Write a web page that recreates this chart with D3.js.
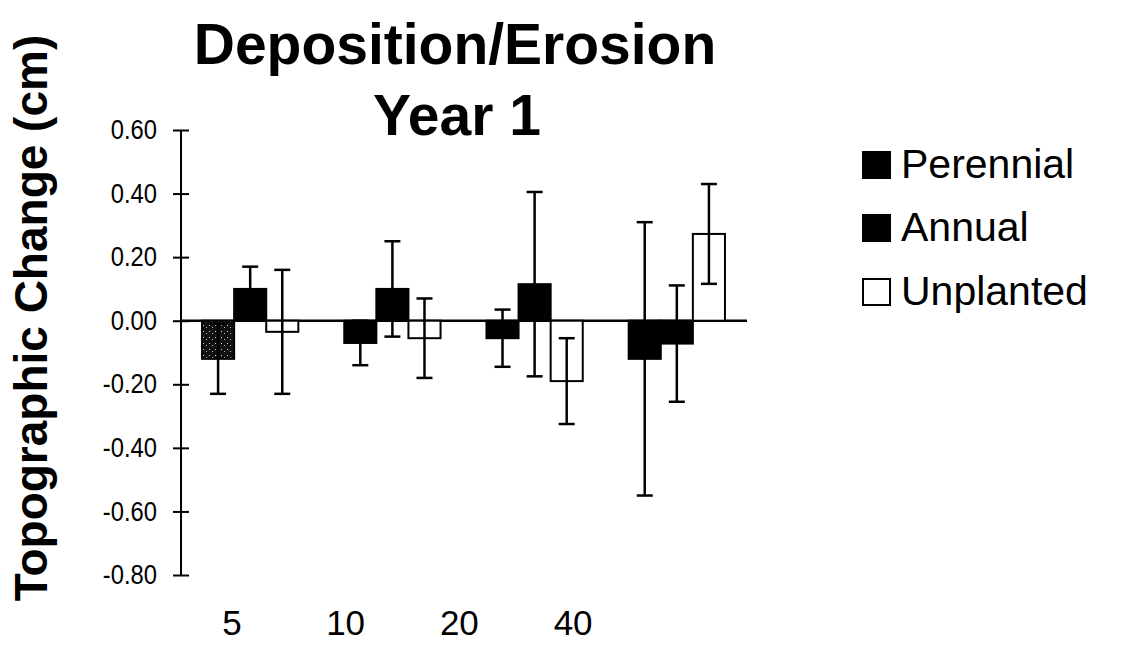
<!DOCTYPE html>
<html>
<head>
<meta charset="utf-8">
<script src="https://cdn.jsdelivr.net/npm/d3@7"></script>
<style>
  body { margin: 0; background: #fff; }
  text { font-family: "Liberation Sans", Arial, sans-serif; fill: #000; }
</style>
</head>
<body>
<script>
// Data
const categories = ["5", "10", "20", "40"];
const seriesNames = ["Perennial", "Annual", "Unplanted"];
const perennial = [-0.12, -0.07, -0.055, -0.12];
const perennialErr = [0.11, 0.07, 0.09, 0.43];
const annual = [0.10, 0.10, 0.115, -0.072];
const annualErr = [0.07, 0.15, 0.29, 0.183];
const unplanted = [-0.035, -0.055, -0.19, 0.273];
const unplantedErr = [0.195, 0.125, 0.135, 0.157];
const yTicks = [0.6, 0.4, 0.2, 0, -0.2, -0.4, -0.6, -0.8];

const W = 1127, H = 659;

const svg = d3.select("body").append("svg")
  .attr("width", W)
  .attr("height", H);

// speckled fill seen on the first perennial bar
const defs = svg.append("defs");
const pat = defs.append("pattern")
  .attr("id", "speckle")
  .attr("patternUnits", "userSpaceOnUse")
  .attr("width", 6).attr("height", 6);
pat.append("rect").attr("width", 6).attr("height", 6).attr("fill", "#111");
pat.append("rect").attr("x", 1).attr("y", 1).attr("width", 1).attr("height", 1).attr("fill", "#ddd");
pat.append("rect").attr("x", 4).attr("y", 3).attr("width", 1).attr("height", 1).attr("fill", "#bbb");

// Scales
const y = d3.scaleLinear().domain([-0.8, 0.6]).range([575, 130]);

const x0 = d3.scaleBand()
  .domain(categories)
  .range([180, 747])
  .paddingInner(0.323)
  .paddingOuter(0.155);

const x1 = d3.scaleBand()
  .domain(seriesNames)
  .range([0, x0.bandwidth()]);

// category labels sit a bit left of their groups in the original
const xLabel = d3.scaleBand().domain(categories).range([175, 630]);

const data = categories.map((c, i) => ({
  cat: c,
  values: [
    { key: "Perennial", v: perennial[i], e: perennialErr[i] },
    { key: "Annual", v: annual[i], e: annualErr[i] },
    { key: "Unplanted", v: unplanted[i], e: unplantedErr[i] }
  ]
}));

const fills = { Perennial: "#000", Annual: "#000", Unplanted: "#fff" };

// Zero line
svg.append("line")
  .attr("x1", 180).attr("x2", 747)
  .attr("y1", y(0)).attr("y2", y(0))
  .attr("stroke", "#000").attr("stroke-width", 2.5);

// Bars
const groups = svg.selectAll(".grp")
  .data(data)
  .join("g")
  .attr("class", "grp")
  .attr("transform", d => `translate(${x0(d.cat)},0)`);

groups.selectAll("rect")
  .data(d => d.values.map(v => Object.assign({ cat: d.cat }, v)))
  .join("rect")
  .attr("x", d => x1(d.key))
  .attr("width", x1.bandwidth())
  .attr("y", d => y(Math.max(0, d.v)))
  .attr("height", d => Math.abs(y(d.v) - y(0)))
  .attr("fill", d => (d.key === "Perennial" && d.cat === "5") ? "url(#speckle)" : fills[d.key])
  .attr("stroke", "#000")
  .attr("stroke-width", 2);

// Error bars
const err = groups.selectAll(".err")
  .data(d => d.values)
  .join("g")
  .attr("class", "err")
  .attr("transform", d => `translate(${x1(d.key) + x1.bandwidth() / 2},0)`);

err.append("line")
  .attr("y1", d => y(d.v + d.e))
  .attr("y2", d => y(d.v - d.e))
  .attr("stroke", "#000").attr("stroke-width", 2.5);

err.selectAll(".cap")
  .data(d => [d.v + d.e, d.v - d.e])
  .join("line")
  .attr("class", "cap")
  .attr("x1", -8).attr("x2", 8)
  .attr("y1", d => y(d)).attr("y2", d => y(d))
  .attr("stroke", "#000").attr("stroke-width", 2.5);

// Y axis with crossing ticks
const yAxis = svg.append("g")
  .attr("transform", "translate(181,0)")
  .call(d3.axisLeft(y).tickValues(yTicks).tickSize(8).tickPadding(16));

yAxis.select(".domain").remove();
yAxis.append("line")
  .attr("y1", y(0.6)).attr("y2", y(-0.8))
  .attr("stroke", "#000").attr("stroke-width", 2);
yAxis.selectAll(".tick line")
  .attr("x1", 8).attr("x2", -8)
  .attr("stroke-width", 2);
// labels in the original are a little taller than they are wide
yAxis.selectAll(".tick text")
  .attr("font-family", null)
  .attr("x", -24 / 0.88)
  .attr("transform", "scale(0.88,1)")
  .style("font-size", "27px")
  .text(d => d.toFixed(2).replace("-0.00", "0.00"));

// X labels
const xAxis = svg.append("g")
  .attr("transform", "translate(0,610)")
  .call(d3.axisBottom(xLabel).tickSize(0).tickPadding(0));
xAxis.select(".domain").remove();
xAxis.selectAll(".tick text")
  .attr("font-family", null)
  .attr("dy", "0.71em")
  .style("font-size", "35px");

// Y axis title
svg.append("text")
  .attr("transform", "translate(47,318) rotate(-90)")
  .attr("text-anchor", "middle")
  .style("font-size", "46px")
  .style("font-weight", "bold")
  .text("Topographic Change (cm)");

// Title
const title = svg.append("text")
  .attr("text-anchor", "middle")
  .style("font-size", "57px")
  .style("font-weight", "bold");
title.append("tspan").attr("x", 455).attr("y", 64).text("Deposition/Erosion");
title.append("tspan").attr("x", 457).attr("y", 135).text("Year 1");

// Legend
const legend = svg.append("g").attr("transform", "translate(862,0)");
const legendY = [178, 241, 305];
seriesNames.forEach((s, i) => {
  legend.append("rect")
    .attr("x", 1).attr("y", legendY[i] - 26)
    .attr("width", 27).attr("height", 26)
    .attr("fill", fills[s])
    .attr("stroke", "#000").attr("stroke-width", 2);
  legend.append("text")
    .attr("x", 39).attr("y", legendY[i])
    .style("font-size", "41px")
    .text(s);
});
</script>
</body>
</html>
